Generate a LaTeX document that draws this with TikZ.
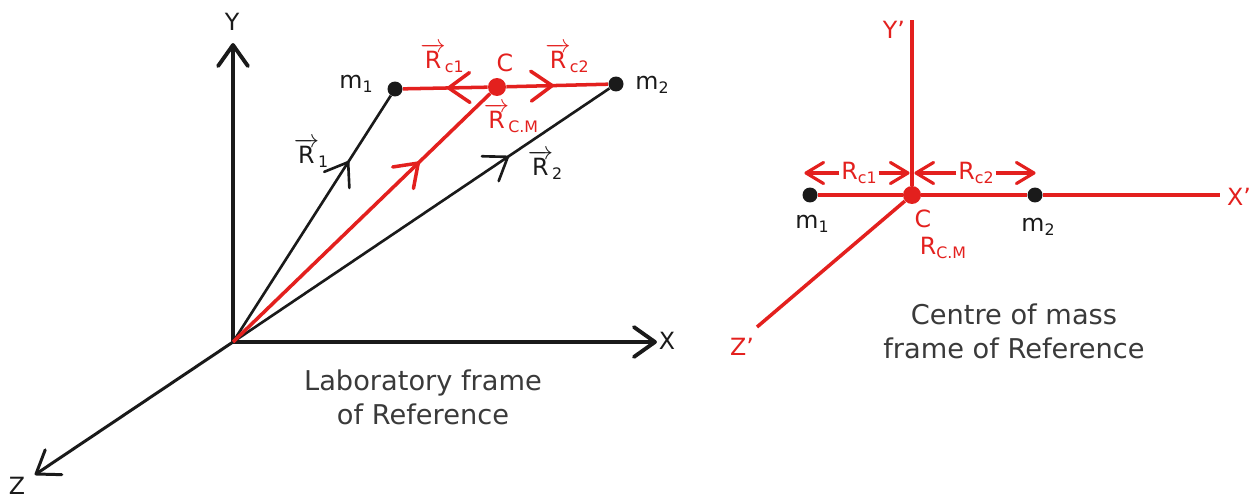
\documentclass[tikz,border=0pt]{standalone}
\usepackage{fontspec}
\setmainfont{DejaVu Sans}
\usepackage{tikz}
\usetikzlibrary{decorations.markings}
\definecolor{vecred}{HTML}{E3201E}
\definecolor{dark}{HTML}{1A1A1A}
\definecolor{capgray}{HTML}{3A3A3A}
\newcommand{\lowidx}[1]{\raisebox{-0.35ex}{\fontsize{9}{9}\selectfont #1}}
\newcommand{\vR}[1]{$\overrightarrow{\mbox{R}}$\kern-0.5pt\lowidx{#1}}
\tikzset{
    chev/.style={postaction={decorate}, decoration={markings, mark=at position #1 with {\draw[line cap=round, line join=round] (-12pt,8.5pt) -- (0pt,0pt) -- (-12pt,-8.5pt);}}},
    chev/.default=1,
    smallchev/.style={postaction={decorate}, decoration={markings, mark=at position #1 with {\draw[line cap=round, line join=round] (-10pt,6pt) -- (0pt,0pt) -- (-10pt,-6pt);}}},
    smallchev/.default=1,
    axis/.style={line width=2.2pt, color=dark, chev},
    vec/.style={line width=1.5pt, chev=#1},
    redaxis/.style={line width=2pt, color=vecred},
    dim/.style={line width=1.8pt, color=vecred, smallchev},
    dot/.style={circle, fill=dark, inner sep=0pt, minimum size=0.3cm},
    lbl/.style={font=\fontsize{13.5}{16}\selectfont, text=dark, inner sep=1pt},
    caption/.style={align=center, font=\fontsize{15.5}{19.5}\selectfont, text=capgray}
}
\begin{document}
\begin{tikzpicture}[x=0.02cm, y=-0.02cm]
\useasboundingbox (0,0) rectangle (1252,500);
% laboratory frame
\coordinate (O) at (233,342);
\coordinate (ytip) at (233,45);
\coordinate (xtip) at (655,342);
\coordinate (ztip) at (36,474);
\node[lbl] (ylab) at (232,22) {Y};
\node[lbl] (xlab) at (667,341) {X};
\node[lbl] (zlab) at (17,486) {Z};
\draw[axis] (O) -- (ytip);
\draw[axis] (O) -- (xtip);
\draw[axis, line width=1.7pt] (O) -- (ztip);
\node[dot] (m1) at (395,89) {};
\node[dot] (m2) at (616,84) {};
\node[dot, fill=vecred, minimum size=0.36cm] (C) at (497,87) {};
\draw[vec=0.73, dark] (O) -- (m1);
\draw[vec=0.73, dark] (O) -- (m2);
\draw[vec=0.72, vecred, line width=2pt] (O) -- (C);
\draw[vec=0.46, vecred, line width=2pt] (C) -- (m1);
\draw[vec=0.45, vecred, line width=2pt] (C) -- (m2);
\node[lbl] (m1lab) at (356,84) {m\lowidx{1}};
\node[lbl] (m2lab) at (652,85) {m\lowidx{2}};
\node[lbl, text=vecred] (clab) at (505,63) {C};
\node[lbl, text=vecred] (rc1) at (442,58) {\vR{c1}};
\node[lbl, text=vecred] (rc2) at (567,58) {\vR{c2}};
\node[lbl, text=vecred] (rcm) at (511,118) {\vR{C.M}};
\node[lbl] (r1) at (311,153) {\vR{1}};
\node[lbl] (r2) at (545,165) {\vR{2}};
\node[caption] (labcap) at (423,397) {Laboratory frame\\of Reference};
% centre of mass frame
\node[dot, fill=vecred, minimum size=0.36cm] (Cp) at (912,195) {};
\node[dot] (m1p) at (810,195) {};
\node[dot] (m2p) at (1035,195) {};
\coordinate (ypend) at (912,20);
\coordinate (xpend) at (1220,195);
\coordinate (zpend) at (757,327);
\draw[redaxis] (Cp) -- (ypend);
\draw[redaxis] (m1p) -- (Cp);
\draw[redaxis] (Cp) -- (m2p);
\draw[redaxis] (m2p) -- (xpend);
\draw[redaxis] (Cp) -- (zpend);
\node[lbl, text=vecred] (yplab) at (894,30) {Y'};
\node[lbl, text=vecred] (xplab) at (1239,197) {X'};
\node[lbl, text=vecred] (zplab) at (742,347) {Z'};
\node[lbl] (m1plab) at (812,224) {m\lowidx{1}};
\node[lbl] (m2plab) at (1038,227) {m\lowidx{2}};
\node[lbl, text=vecred] (cplab) at (923,219) {C};
\node[lbl, text=vecred] (rcmp) at (943,248) {R\lowidx{C.M}};
\coordinate (a1) at (806,173);
\coordinate (a2) at (908,173);
\coordinate (b1) at (916,173);
\coordinate (b2) at (1034,173);
\node[lbl, text=vecred] (rc1p) at (859,173) {R\lowidx{c1}};
\node[lbl, text=vecred] (rc2p) at (976,173) {R\lowidx{c2}};
\draw[dim] (rc1p) -- (a1);
\draw[dim] (rc1p) -- (a2);
\draw[dim] (rc2p) -- (b1);
\draw[dim] (rc2p) -- (b2);
\node[caption] (cmcap) at (1014,331) {Centre of mass\\frame of Reference};
\end{tikzpicture}
\end{document}
